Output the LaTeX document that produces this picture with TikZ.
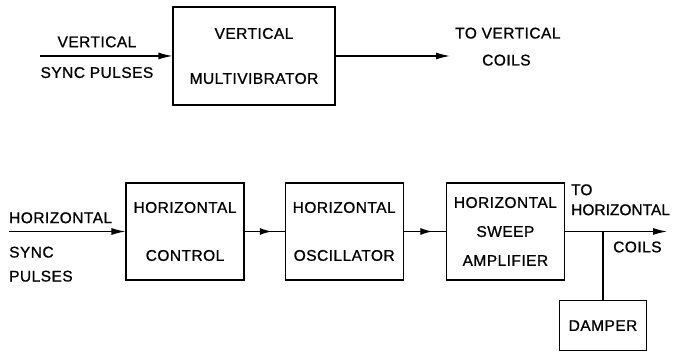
\documentclass[tikz,border=0pt]{standalone}
\usepackage{fontspec}
\setmainfont[FakeBold=0.9, LetterSpace=3]{Liberation Sans}
\usetikzlibrary{positioning,arrows.meta,decorations.markings}

\begin{document}
\begin{tikzpicture}[
    x=1pt, y=1pt,
    font=\fontsize{15.5}{19}\selectfont,
    box/.style={draw, line width=1.2pt, align=center, inner sep=0pt},
    hbox/.style={box, minimum width=118pt, minimum height=97pt},
    lbl/.style={inner sep=0pt, align=left},
    wire/.style={line width=1.2pt},
    arrow/.style={-{Latex[length=14pt,width=7pt]}, line width=1.2pt},
    midarrow/.style={wire, postaction={decorate},
      decoration={markings, mark=at position 0.68 with {\arrow{Latex[length=12pt,width=7pt]}}}}
  ]
    \useasboundingbox (0,0) rectangle (676,352);

    % vertical section
    \node[box, minimum width=162pt, minimum height=98pt] (vmv) at (254,296) {VERTICAL\\[26pt]MULTIVIBRATOR};
    \coordinate (vin) at (40,296);
    \coordinate (vout) at (450,296);
    \draw[arrow] (vin) -- node[lbl, pos=0.43, above=8pt] (vsyncA) {VERTICAL}
      node[lbl, pos=0.43, below=10.5pt] (vsyncB) {SYNC PULSES} (vmv);
    \draw[arrow] (vmv) -- (vout);
    \node[lbl, anchor=base west] (tovert) at ([xshift=5pt, yshift=17.5pt]vout) {TO VERTICAL};
    \node[lbl, anchor=base west] (vcoils) at ([xshift=32pt, yshift=-9.5pt]vout) {COILS};

    % horizontal section
    \node[hbox] (hctl) at (185,120.5) {HORIZONTAL\\[29pt]CONTROL};
    \node[hbox, right=40pt of hctl] (hosc) {HORIZONTAL\\[29pt]OSCILLATOR};
    \node[hbox, right=42pt of hosc] (hsweep) {HORIZONTAL\\[10pt]SWEEP\\[10pt]AMPLIFIER};
    \coordinate (hin) at (9,120.5);
    \coordinate (hout) at (667,120.5);
    \coordinate (jn) at (603,120.5);
    \node[box, minimum width=87pt, minimum height=50pt, below=68.5pt of jn] (damper) {DAMPER};

    \draw[arrow] (hin) -- (hctl);
    \node[lbl, anchor=south west] (hsyncA) at ([yshift=8pt]hin) {HORIZONTAL};
    \node[lbl, anchor=north west] (hsyncB) at ([yshift=-15pt]hin) {SYNC\\[5pt]PULSES};
    \draw[midarrow] (hctl) -- (hosc);
    \draw[midarrow] (hosc) -- (hsweep);
    \draw[arrow] (hsweep) -- (hout);
    \draw[wire] (jn) -- (damper);
    \node[lbl, anchor=south west, font=\fontsize{15.5}{19}\selectfont\addfontfeatures{LetterSpace=0}] (tohor)
      at ([xshift=6pt, yshift=16pt]hsweep.east) {TO\\[1pt]HORIZONTAL};
    \node[lbl, anchor=west] (hcoils) at ([xshift=10pt, yshift=-15.5pt]jn) {COILS};
  \end{tikzpicture}
\end{document}
